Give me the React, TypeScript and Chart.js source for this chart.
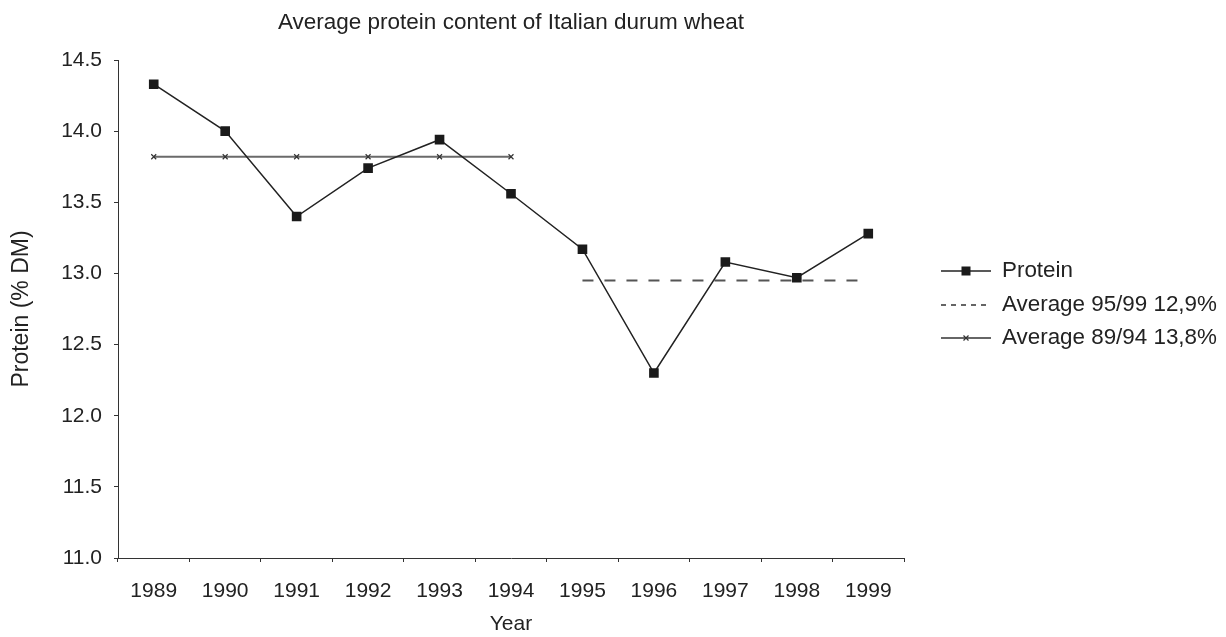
import { useEffect, useRef } from 'react';
import { Chart, registerables } from 'chart.js';

Chart.register(...registerables);

const FONT = "'Liberation Sans', Arial, Helvetica, sans-serif";

const years = ['1989', '1990', '1991', '1992', '1993', '1994', '1995', '1996', '1997', '1998', '1999'];
const protein = [14.33, 14.0, 13.4, 13.74, 13.94, 13.56, 13.17, 12.3, 13.08, 12.97, 13.28];
const avg9599 = [null, null, null, null, null, null, 12.95, 12.95, 12.95, 12.95, 12.95];
const avg8994 = [13.82, 13.82, 13.82, 13.82, 13.82, 13.82, null, null, null, null, null];
const seriesNames = ['Protein', 'Average 95/99 12,9%', 'Average 89/94 13,8%'];
const yMin = 11.0;
const yMax = 14.5;
const yStep = 0.5;
const chartTitle = 'Average protein content of Italian durum wheat';
const xTitle = 'Year';
const yTitle = 'Protein (% DM)';

export default function App() {
  const ref = useRef<HTMLCanvasElement>(null);

  useEffect(() => {
    if (!ref.current) return;

    const legendPlugin = {
      id: 'customLegend',
      afterDraw(chart: any) {
        const { ctx, chartArea } = chart;
        const x0 = chartArea.right + 37;
        const cy = (chartArea.top + chartArea.bottom) / 2;
        const rows = [cy - 38, cy - 4, cy + 29];
        ctx.save();
        // Protein
        ctx.strokeStyle = '#222';
        ctx.lineWidth = 1.5;
        ctx.setLineDash([]);
        ctx.beginPath();
        ctx.moveTo(x0, rows[0]);
        ctx.lineTo(x0 + 50, rows[0]);
        ctx.stroke();
        ctx.fillStyle = '#1a1a1a';
        ctx.fillRect(x0 + 25 - 4.5, rows[0] - 4.5, 9, 9);
        // Avg 95/99
        ctx.strokeStyle = '#333';
        ctx.setLineDash([5, 5]);
        ctx.beginPath();
        ctx.moveTo(x0, rows[1]);
        ctx.lineTo(x0 + 50, rows[1]);
        ctx.stroke();
        // Avg 89/94
        ctx.setLineDash([]);
        ctx.strokeStyle = '#333';
        ctx.beginPath();
        ctx.moveTo(x0, rows[2]);
        ctx.lineTo(x0 + 50, rows[2]);
        ctx.stroke();
        ctx.lineWidth = 1.2;
        ctx.beginPath();
        ctx.moveTo(x0 + 22.5, rows[2] - 2.5);
        ctx.lineTo(x0 + 27.5, rows[2] + 2.5);
        ctx.moveTo(x0 + 27.5, rows[2] - 2.5);
        ctx.lineTo(x0 + 22.5, rows[2] + 2.5);
        ctx.stroke();
        // Text
        ctx.fillStyle = '#222';
        ctx.font = `22.4px ${FONT}`;
        ctx.textBaseline = 'middle';
        ctx.textAlign = 'left';
        seriesNames.forEach((n, i) => ctx.fillText(n, x0 + 61, rows[i]));
        ctx.restore();
      },
    };

    const chart = new Chart(ref.current, {
      type: 'line',
      data: {
        labels: years,
        datasets: [
          {
            label: seriesNames[0],
            data: protein,
            borderColor: '#222',
            borderWidth: 1.5,
            pointStyle: 'rect',
            pointRadius: 6.8,
            pointBackgroundColor: '#1a1a1a',
            pointBorderColor: '#1a1a1a',
            pointBorderWidth: 0,
            tension: 0,
          },
          {
            label: seriesNames[1],
            data: avg9599,
            borderColor: '#555',
            borderWidth: 2,
            borderDash: [11, 11],
            pointRadius: 0,
            spanGaps: false,
          },
          {
            label: seriesNames[2],
            data: avg8994,
            borderColor: '#6a6a6a',
            borderWidth: 2,
            pointStyle: 'crossRot',
            pointRadius: 3.5,
            pointBorderColor: '#333',
            pointBorderWidth: 1.2,
            spanGaps: false,
          },
        ],
      },
      plugins: [legendPlugin],
      options: {
        animation: false,
        responsive: true,
        maintainAspectRatio: false,
        layout: { padding: { left: 0, right: 322, top: 0, bottom: 0 } },
        plugins: {
          legend: { display: false },
          tooltip: { enabled: false },
          title: {
            display: true,
            text: chartTitle,
            fullSize: false,
            color: '#222',
            font: { family: FONT, size: 22.5, weight: 'normal' },
            padding: { top: 9, bottom: 24 },
          },
        },
        scales: {
          x: {
            type: 'category',
            offset: true,
            afterFit(scale: any) {
              scale.height = 79;
            },
            grid: {
              display: true,
              drawOnChartArea: false,
              drawTicks: true,
              tickLength: 4,
              color: '#333',
              offset: true,
            },
            border: { display: true, color: '#333', width: 1 },
            ticks: {
              color: '#222',
              font: { family: FONT, size: 21 },
              padding: 17,
              maxRotation: 0,
              autoSkip: false,
            },
            title: {
              display: true,
              text: xTitle,
              color: '#222',
              font: { family: FONT, size: 21 },
              padding: { top: 0, bottom: 0 },
            },
          },
          y: {
            type: 'linear',
            min: yMin,
            max: yMax,
            afterFit(scale: any) {
              scale.width = 118;
            },
            grid: {
              display: true,
              drawOnChartArea: false,
              drawTicks: true,
              tickLength: 4,
              color: '#333',
            },
            border: { display: true, color: '#333', width: 1 },
            ticks: {
              stepSize: yStep,
              color: '#222',
              font: { family: FONT, size: 21 },
              padding: 12,
              callback: (v: any) => Number(v).toFixed(1),
            },
            title: {
              display: true,
              text: yTitle,
              color: '#222',
              font: { family: FONT, size: 23 },
              padding: { top: 8, bottom: 0 },
            },
          },
        },
      },
    });

    return () => chart.destroy();
  }, []);

  return (
    <div style={{ position: 'fixed', left: 0, top: 0, width: 1226, height: 637, background: '#fff' }}>
      <canvas ref={ref} />
    </div>
  );
}
